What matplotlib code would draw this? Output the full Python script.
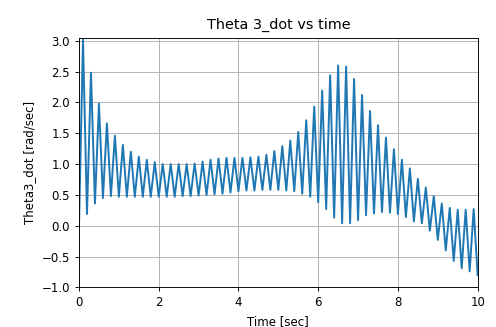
import numpy as np
import matplotlib
matplotlib.use("Agg")
import matplotlib.pyplot as plt

# sampled extrema of theta3_dot (rad/sec); peaks fall on odd tenths, troughs on even
peak_t = np.arange(0.1, 10.0, 0.2)
peak_vals = [3.02, 2.48, 1.98, 1.66, 1.46, 1.31, 1.20, 1.12, 1.07, 1.03,
             1.00, 1.00, 1.00, 1.00, 1.01, 1.04, 1.07, 1.09, 1.10, 1.10,
             1.10, 1.11, 1.12, 1.15, 1.21, 1.29, 1.38, 1.52, 1.71, 1.93,
             2.19, 2.44, 2.60, 2.58, 2.38, 2.12, 1.86, 1.63, 1.43, 1.24,
             1.07, 0.93, 0.76, 0.62, 0.48, 0.36, 0.29, 0.26, 0.26, 0.27]

trough_t = np.arange(0.2, 10.01, 0.2)
trough_vals = [0.19, 0.36, 0.45, 0.48, 0.47, 0.47, 0.47, 0.47, 0.47, 0.47,
               0.47, 0.47, 0.48, 0.48, 0.49, 0.50, 0.51, 0.52, 0.54, 0.56,
               0.57, 0.57, 0.58, 0.58, 0.58, 0.57, 0.56, 0.52, 0.47, 0.38,
               0.27, 0.13, 0.04, 0.04, 0.09, 0.17, 0.20, 0.22, 0.21, 0.19,
               0.14, 0.07, 0.04, -0.08, -0.23, -0.40, -0.57, -0.69, -0.74, -0.80]

t0, theta0 = 0.0, 0.0

# interleave peaks and troughs into one time series
t = np.empty(1 + 2 * len(peak_t))
y = np.empty_like(t)
t[0], y[0] = t0, theta0
t[1::2], y[1::2] = peak_t, peak_vals
t[2::2], y[2::2] = trough_t, trough_vals

s = 0.8266  # pt scale for a 100 dpi canvas
plt.rcParams.update({
    "font.size": 10.3 * s,
    "axes.linewidth": 0.8 * s,
    "xtick.major.size": 3.5 * s,
    "ytick.major.size": 3.5 * s,
    "xtick.major.width": 0.8 * s,
    "ytick.major.width": 0.8 * s,
    "grid.linewidth": 0.8 * s,
})

fig = plt.figure(figsize=(4.96, 3.27), dpi=100)
ax = fig.add_axes([0.1593, 0.121, 0.8037, 0.764])
ax.plot(t, y, color="#1f77b4", lw=1.7 * s)
ax.set_xlim(0, 10)
ax.set_ylim(-1.0, 3.05)
ax.set_title("Theta 3_dot vs time", fontsize=12.5 * s)
ax.set_xlabel("Time [sec]")
ax.set_ylabel("Theta3_dot [rad/sec]")
ax.grid(True)

fig.savefig("out.png", dpi=100)
